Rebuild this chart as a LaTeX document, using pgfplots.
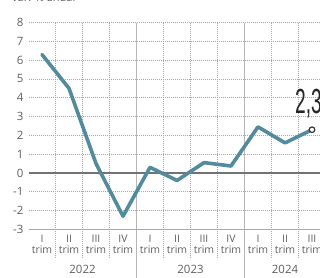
\documentclass[border=0pt]{standalone}
\usepackage{pgfplots}
\pgfplotsset{compat=1.18}
\usepackage{fontspec}
\setmainfont{Open Sans}
\newfontfamily\cond[FakeStretch=0.55]{Liberation Sans}
\definecolor{linec}{RGB}{82,138,158}
\definecolor{gridc}{RGB}{170,170,170}
\definecolor{labc}{RGB}{95,95,95}
\begin{document}
\begin{tikzpicture}
\begin{axis}[
  x=27bp, y=18.8bp,
  xmin=-0.5, xmax=10.5, ymin=-3, ymax=8,
  clip=false,
  axis line style={draw=none},
  major tick length=0pt, minor tick length=0pt,
  ytick={-3,-2,-1,0,1,2,3,4,5,6,7,8},
  xtick={0,1,2,3,4,5,6,7,8,9,10},
  xticklabels={{I\\trim},{II\\trim},{III\\trim},{IV\\trim},{I\\trim},{II\\trim},{III\\trim},{IV\\trim},{I\\trim},{II\\trim},{III\\trim}},
  xticklabel style={align=center, font=\fontsize{10.5}{11.5}\selectfont, text=labc, inner sep=0pt, yshift=-5bp},
  yticklabel style={font=\fontsize{11.5}{13}\selectfont, text=labc, inner sep=0pt, xshift=-5bp},
  ymajorgrids,
  major grid style={draw=gridc, dash pattern=on 1bp off 1bp, line width=0.6bp},
  /pgf/number format/assume math mode=true,
]
% vertical dotted separators
\pgfplotsinvokeforeach{0.5,1.5,2.5,4.5,5.5,6.5,8.5,9.5}{
  \draw[gridc, dash pattern=on 1bp off 1bp, line width=0.6bp] (axis cs:#1,8) -- (axis cs:#1,-4.45);
}
% year separators
\draw[gridc!85, line width=1bp] (axis cs:3.5,8) -- (axis cs:3.5,-5.7);
\draw[gridc!85, line width=1bp] (axis cs:7.5,8) -- (axis cs:7.5,-5.7);
% zero and bottom lines
\draw[gridc, line width=0.8bp] (axis cs:-0.5,-3) -- (axis cs:10.5,-3);
\draw[black!55, line width=1.1bp] (axis cs:-0.5,0) -- (axis cs:10.5,0);

\addplot[linec, line width=3.6bp, line join=round, line cap=round] coordinates {
  (0,6.3) (1,4.5) (2,0.5) (3,-2.3) (4,0.3) (5,-0.4) (6,0.55) (7,0.37) (8,2.45) (9,1.6) (10,2.3)
};
\addplot[only marks, mark=*, mark size=2.8bp, mark options={fill=white, draw=black!80, line width=1.2bp}] coordinates {(10,2.3)};

\node[anchor=south west, inner sep=0pt, text=black!85] at (axis cs:9.37,2.93) {\cond\fontsize{35}{37}\selectfont 2,3};

\node[text=labc, font=\fontsize{11.5}{13}\selectfont] at (axis cs:1.5,-5.12) {2022};
\node[text=labc, font=\fontsize{11.5}{13}\selectfont] at (axis cs:5.5,-5.12) {2023};
\node[text=labc, font=\fontsize{11.5}{13}\selectfont] at (axis cs:9,-5.12) {2024};

\node[anchor=base west, inner sep=0pt, text=labc, font=\fontsize{11}{13}\selectfont] at (axis cs:-1.11,9.12) {var. \% anual};

\coordinate (bbsw) at (axis cs:-1.556,-5.585);
\coordinate (bbne) at (axis cs:10.296,9.2);
\end{axis}
\pgfresetboundingbox
\useasboundingbox (bbsw) rectangle (bbne);
\end{tikzpicture}
\end{document}
